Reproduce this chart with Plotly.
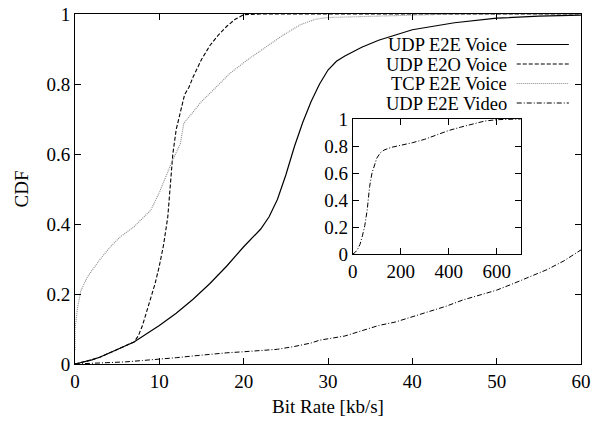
import plotly.graph_objects as go

# CDF of bit rate [kb/s] per flow type
udp_e2e_voice_x = [0, 1, 2, 3, 4, 5, 6, 7, 8, 9, 10, 12, 14, 16, 18, 20, 22, 23, 24, 25, 26,
                   27, 28, 29, 30, 31, 32, 34, 36, 38, 40, 45, 50, 55, 60]
udp_e2e_voice_y = [0, 0.005, 0.012, 0.02, 0.03, 0.04, 0.052, 0.063, 0.078, 0.095, 0.11, 0.145,
                   0.185, 0.23, 0.28, 0.335, 0.385, 0.42, 0.47, 0.54, 0.62, 0.69, 0.75, 0.80,
                   0.84, 0.865, 0.88, 0.905, 0.925, 0.94, 0.955, 0.975, 0.988, 0.994, 0.997]

udp_e2o_voice_x = [0, 1, 2, 3, 4, 5, 6, 7, 7.5, 8, 8.5, 9, 9.5, 10, 10.5, 11, 11.3, 11.6, 12,
                   12.5, 13, 13.5, 14, 15, 16, 17, 18, 19, 20, 22, 25, 60]
udp_e2o_voice_y = [0, 0.005, 0.012, 0.02, 0.03, 0.04, 0.052, 0.063, 0.08, 0.11, 0.15, 0.19,
                   0.23, 0.28, 0.34, 0.42, 0.5, 0.6, 0.67, 0.72, 0.77, 0.79, 0.82, 0.87, 0.91,
                   0.94, 0.965, 0.985, 0.998, 1, 1, 1]

tcp_e2e_voice_x = [0, 0, 0.3, 0.7, 1.5, 3, 4.2, 5.4, 7, 9, 10, 10.6, 11.5, 12.5, 12.9, 13.7, 15,
                   16.4, 18.4, 20.5, 22.7, 24.7, 26.7, 28.5, 30, 35, 40, 45, 60]
tcp_e2e_voice_y = [0.04, 0.1, 0.16, 0.21, 0.25, 0.3, 0.335, 0.364, 0.392, 0.44, 0.49, 0.526,
                   0.578, 0.63, 0.688, 0.711, 0.75, 0.783, 0.831, 0.87, 0.907, 0.94, 0.969,
                   0.985, 0.99, 0.994, 0.997, 1, 1]

udp_e2e_video_x = [0, 2, 4, 6, 8, 10, 12, 14, 16, 18, 20, 22, 24, 26, 28, 29, 30, 32, 34, 36,
                   38, 40, 42, 44, 46, 48, 50, 52, 54, 56, 58, 60]
udp_e2e_video_y = [0, 0.002, 0.003, 0.006, 0.01, 0.013, 0.018, 0.023, 0.028, 0.032, 0.035,
                   0.038, 0.042, 0.05, 0.06, 0.068, 0.072, 0.08, 0.095, 0.11, 0.12, 0.135,
                   0.149, 0.165, 0.183, 0.197, 0.211, 0.23, 0.25, 0.27, 0.295, 0.326]

# full range of the video flow, shown in the inset
video_full_x = [0, 10, 20, 30, 40, 50, 60, 70, 80, 90, 100, 115, 130, 160, 200, 250, 300, 350,
                400, 450, 500, 550, 600, 650, 700]
video_full_y = [0, 0.013, 0.035, 0.072, 0.135, 0.211, 0.326, 0.5, 0.6, 0.66, 0.71, 0.75, 0.77,
                0.79, 0.805, 0.825, 0.85, 0.885, 0.915, 0.94, 0.965, 0.985, 0.995, 0.998, 1.0]

names = ["UDP E2E Voice", "UDP E2O Voice", "TCP E2E Voice", "UDP E2E Video"]
main_x_ticks = [0, 10, 20, 30, 40, 50, 60]
y_ticks = [0, 0.2, 0.4, 0.6, 0.8, 1]
y_tick_text = ["0", "0.2", "0.4", "0.6", "0.8", "1"]
inset_x_ticks = [0, 200, 400, 600]

FONT = "Liberation Serif"
FS = 19
LEG_FS = 18.5
styles = [
    dict(color="black", width=1.2, dash="solid"),
    dict(color="black", width=1.1, dash="4px,2px"),
    dict(color="#8a8a8a", width=1.1, dash="1px,1px"),
    dict(color="black", width=1.0, dash="5px,2px,1px,2px"),
]

fig = go.Figure()
series = [(udp_e2e_voice_x, udp_e2e_voice_y), (udp_e2o_voice_x, udp_e2o_voice_y),
          (tcp_e2e_voice_x, tcp_e2e_voice_y), (udp_e2e_video_x, udp_e2e_video_y)]
for (xs, ys), name, st in zip(series, names, styles):
    fig.add_trace(go.Scatter(x=xs, y=ys, mode="lines", name=name, line=st,
                             showlegend=False, xaxis="x", yaxis="y"))

fig.add_trace(go.Scatter(x=video_full_x, y=video_full_y, mode="lines", name=names[3],
                         line=styles[3], showlegend=False, xaxis="x2", yaxis="y2"))

# legend drawn gnuplot-style: label right-aligned, line sample on its right
leg_y = [0.9129, 0.8571, 0.8014, 0.7457]
for name, st, ly in zip(names, styles, leg_y):
    fig.add_annotation(x=0.856, y=ly, xref="paper", yref="paper", text=name,
                       showarrow=False, xanchor="right", yanchor="middle", height=17,
                       borderpad=0, font=dict(family=FONT, size=LEG_FS, color="black"))
    fig.add_shape(type="line", xref="paper", yref="paper", x0=0.873, x1=0.976,
                  y0=ly, y1=ly, line=st)

axis_common = dict(showline=True, linecolor="black", linewidth=1, mirror="ticks",
                   ticks="inside", ticklen=6, tickcolor="black", showgrid=False,
                   zeroline=False, automargin=False,
                   tickfont=dict(family=FONT, size=FS, color="black"))

fig.update_layout(
    template="none",
    width=594, height=423,
    margin=dict(l=75, r=13, t=14, b=59),
    paper_bgcolor="white", plot_bgcolor="white",
    font=dict(family=FONT, size=FS, color="black"),
    xaxis=dict(range=[0, 60], tickvals=main_x_ticks, domain=[0, 1],
               title=dict(text="Bit Rate [kb/s]", font=dict(family=FONT, size=FS), standoff=8),
               **axis_common),
    yaxis=dict(range=[0, 1], tickvals=y_ticks, ticktext=y_tick_text, domain=[0, 1],
               title=dict(text="CDF", font=dict(family=FONT, size=FS), standoff=12),
               **axis_common),
    xaxis2=dict(range=[0, 700], tickvals=inset_x_ticks, domain=[0.549, 0.881],
                anchor="y2", **axis_common),
    yaxis2=dict(range=[0, 1], tickvals=y_ticks, ticktext=y_tick_text, domain=[0.314, 0.70],
                anchor="x2", **axis_common),
)

fig.write_html("out.html")
